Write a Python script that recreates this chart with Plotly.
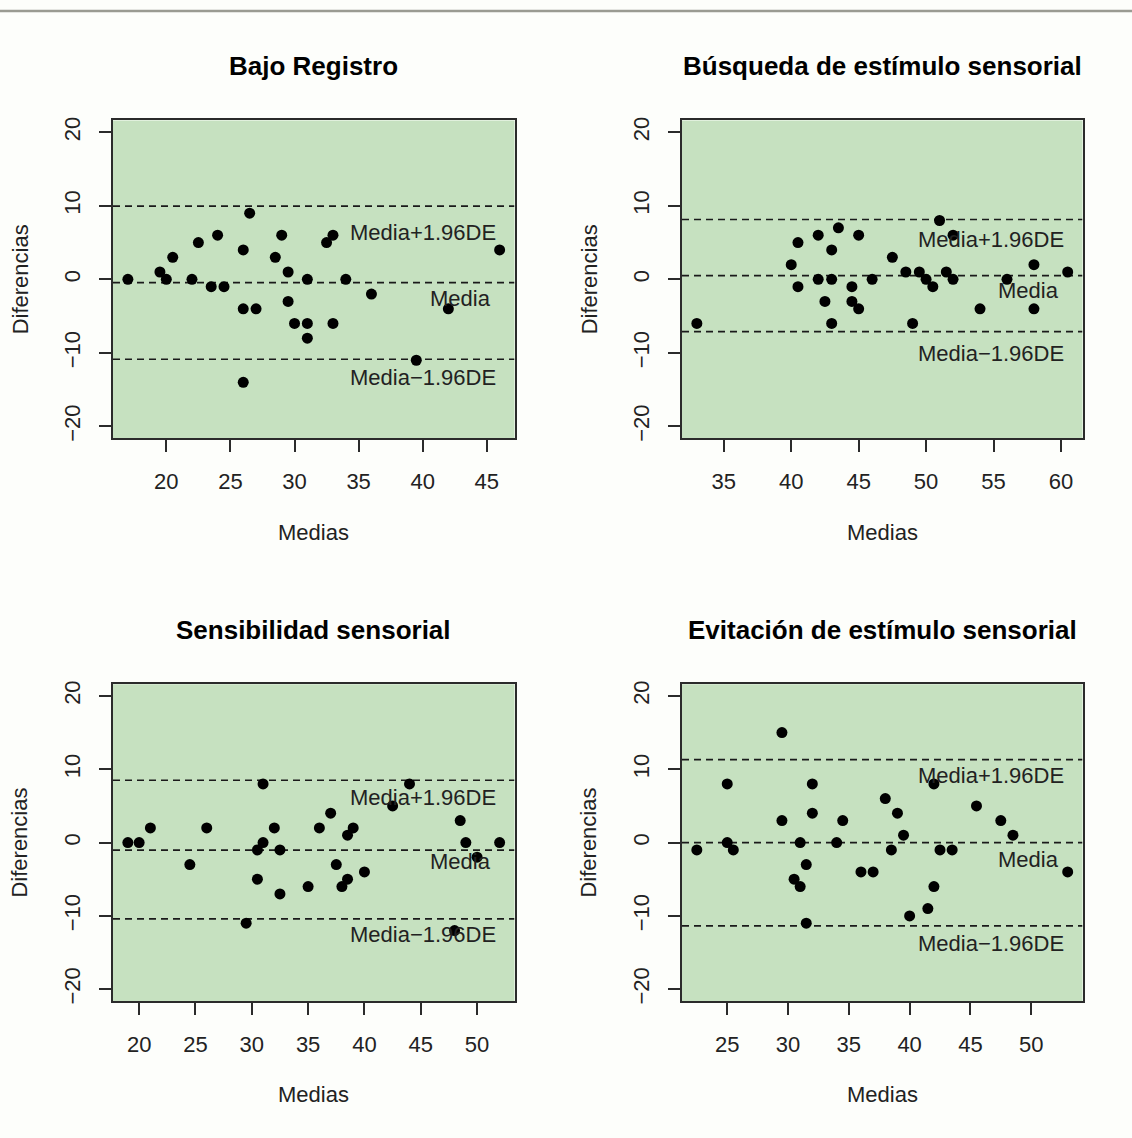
import plotly.graph_objects as go

# ---------------- data ----------------
titles = ["Bajo Registro", "Búsqueda de estímulo sensorial",
          "Sensibilidad sensorial", "Evitación de estímulo sensorial"]

br_x = [17, 19.5, 20, 20.5, 22, 22.5, 23.5, 24, 24.5, 26, 26, 26, 26.5, 27, 28.5,
        29, 29.5, 29.5, 30, 31, 31, 31, 32.5, 33, 33, 34, 36, 39.5, 42, 46]
br_y = [0, 1, 0, 3, 0, 5, -1, 6, -1, 4, -4, -14, 9, -4, 3,
        6, 1, -3, -6, 0, -6, -8, 5, 6, -6, 0, -2, -11, -4, 4]

be_x = [33, 40, 40.5, 40.5, 42, 42, 42.5, 43, 43, 43, 43.5, 44.5, 44.5, 45, 45, 46,
        47.5, 48.5, 49, 49.5, 50, 50.5, 51, 51.5, 52, 52, 54, 56, 58, 58, 60.5]
be_y = [-6, 2, 5, -1, 6, 0, -3, 4, 0, -6, 7, -1, -3, 6, -4, 0,
        3, 1, -6, 1, 0, -1, 8, 1, 6, 0, -4, 0, 2, -4, 1]

ss_x = [19, 20, 21, 24.5, 26, 29.5, 30.5, 30.5, 31, 31, 32, 32.5, 32.5, 35, 36,
        37, 37.5, 38, 38.5, 39, 38.5, 40, 42.5, 44, 48, 48.5, 49, 50, 52]
ss_y = [0, 0, 2, -3, 2, -11, -5, -1, 0, 8, 2, -1, -7, -6, 2,
        4, -3, -6, 1, 2, -5, -4, 5, 8, -12, 3, 0, -2, 0]

ev_x = [22.5, 25, 25, 25.5, 29.5, 29.5, 30.5, 31, 31, 31.5, 31.5, 32, 32, 34, 34.5,
        36, 37, 38, 38.5, 39, 39.5, 40, 41.5, 42, 42, 42.5, 43.5, 45.5, 47.5, 48.5, 53]
ev_y = [-1, 8, 0, -1, 15, 3, -5, 0, -6, -3, -11, 8, 4, 0, 3,
        -4, -4, 6, -1, 4, 1, -10, -9, 8, -6, -1, -1, 5, 3, 1, -4]

xs = [br_x, be_x, ss_x, ev_x]
ys = [br_y, be_y, ss_y, ev_y]

# agreement lines: mean, mean+1.96SD, mean-1.96SD
means = [-0.45, 0.5, -1.04, 0.0]
uppers = [9.95, 8.14, 8.5, 11.3]
lowers = [-10.86, -7.1, -10.4, -11.35]

# label vertical positions (upper, mean, lower)
lab_up = [6.38, 5.48, 6.16, 9.09]
lab_mean = [-2.62, -1.58, -2.55, -2.33]
lab_low = [-13.4, -10.04, -12.56, -13.8]

x_ranges = [[15.84, 47.16], [31.9, 61.6], [17.68, 53.32], [21.28, 54.22]]
y_range = [-21.6, 21.6]
y_ticks = [-20, -10, 0, 10, 20]

# ---------------- layout geometry (pixels) ----------------
W, H = 1132, 1138
boxes = [(113, 514.5, 117.3, 437.3), (682, 1082.5, 117.3, 437.3),
         (113, 514.5, 685, 1004), (682, 1082.5, 685, 1004)]

FONT = "Liberation Sans, Arial, sans-serif"
TXT = "#222222"
AX = "#2b2b2b"

fig = go.Figure()
layout = {}
annotations = []
shapes = []

for i in range(4):
    l, r, t, b = boxes[i]
    xd = [l / W, r / W]
    yd = [1 - b / H, 1 - t / H]
    xa = "xaxis" if i == 0 else f"xaxis{i+1}"
    ya = "yaxis" if i == 0 else f"yaxis{i+1}"
    xr = "x" if i == 0 else f"x{i+1}"
    yr = "y" if i == 0 else f"y{i+1}"

    layout[xa] = dict(domain=xd, range=x_ranges[i], anchor=yr, dtick=5, tick0=0,
                      showgrid=False, zeroline=False, showline=True, mirror=True,
                      linecolor=AX, linewidth=1.5, ticks="outside", ticklen=12,
                      tickwidth=1.5, tickcolor=AX, ticklabelstandoff=11,
                      tickfont=dict(family=FONT, size=22, color=TXT))
    layout[ya] = dict(domain=yd, range=y_range, anchor=xr, tickvals=y_ticks,
                      showgrid=False, zeroline=False, showline=True, mirror=True,
                      linecolor=AX, linewidth=1.5, ticks="outside", ticklen=12,
                      tickwidth=1.5, tickcolor=AX, tickangle=-90, ticklabelstandoff=10,
                      tickfont=dict(family=FONT, size=22, color=TXT))

    # green plot area
    shapes.append(dict(type="rect", xref=f"{xr} domain", yref=f"{yr} domain",
                       x0=0, x1=1, y0=0, y1=1, fillcolor="#c6e1c0",
                       line=dict(width=0), layer="below"))

    # agreement lines
    for v in (uppers[i], means[i], lowers[i]):
        fig.add_trace(go.Scatter(x=x_ranges[i], y=[v, v], mode="lines",
                                 line=dict(color="#1a1a1a", width=1.7, dash="7px,5px"),
                                 xaxis=xr, yaxis=yr, showlegend=False, hoverinfo="skip"))

    # points
    fig.add_trace(go.Scatter(x=xs[i], y=ys[i], mode="markers",
                             marker=dict(color="black", size=11),
                             xaxis=xr, yaxis=yr, showlegend=False))

    # line labels
    for txt, yy, xf in (("Media+1.96DE", lab_up[i], 0.96),
                        ("Media", lab_mean[i], 0.947),
                        ("Media\u22121.96DE", lab_low[i], 0.96)):
        annotations.append(dict(text=txt, xref=f"{xr} domain", yref=yr, x=xf, y=yy,
                                xanchor="right", yanchor="middle", showarrow=False,
                                font=dict(family=FONT, size=22, color=TXT)))

    # panel title
    annotations.append(dict(text=f"<b>{titles[i]}</b>", xref="paper", yref="paper",
                            x=(l + r) / 2 / W, y=1 - (t - 55) / H,
                            xanchor="center", yanchor="middle", showarrow=False,
                            font=dict(family=FONT, size=26, color="black")))
    # x axis title
    annotations.append(dict(text="Medias", xref="paper", yref="paper",
                            x=(l + r) / 2 / W, y=1 - (b + 94.5) / H,
                            xanchor="center", yanchor="middle", showarrow=False,
                            font=dict(family=FONT, size=22, color=TXT)))
    # y axis title
    annotations.append(dict(text="Diferencias", xref="paper", yref="paper",
                            x=(l - 93) / W, y=1 - (t + b) / 2 / H, textangle=-90,
                            xanchor="center", yanchor="middle", showarrow=False,
                            font=dict(family=FONT, size=22, color=TXT)))

# thin grey rule at the top of the page
shapes.append(dict(type="line", xref="paper", yref="paper", x0=0, x1=1,
                   y0=1 - 7 / H, y1=1 - 7 / H,
                   line=dict(color="#9a9b92", width=2.5)))

fig.update_layout(width=W, height=H, margin=dict(l=0, r=0, t=0, b=0),
                  paper_bgcolor="#fdfefb", plot_bgcolor="rgba(0,0,0,0)",
                  annotations=annotations, shapes=shapes, showlegend=False,
                  **layout)

fig.write_html("out.html")
